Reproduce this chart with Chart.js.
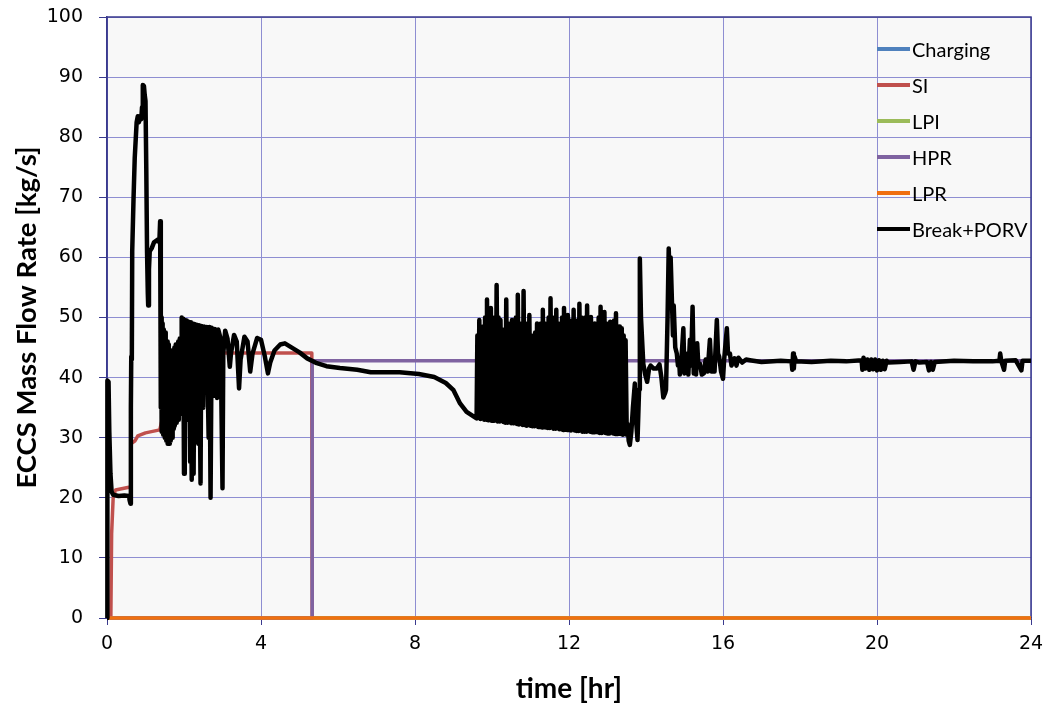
<!DOCTYPE html>
<html>
<head>
<meta charset="utf-8">
<script src="https://cdn.jsdelivr.net/npm/chart.js@4.4.1/dist/chart.umd.min.js"></script>
<style>
html,body{margin:0;padding:0;background:#ffffff;}
#wrap{position:relative;width:1049px;height:708px;overflow:hidden;}
#c{position:absolute;left:0;top:0;}
#legend{position:absolute;left:0;top:0;font-family:Lato,"Open Sans",sans-serif;font-size:20px;color:#000;}
.item{position:absolute;height:24px;line-height:24px;white-space:nowrap;}
.sw{position:absolute;left:0;top:10px;width:33px;height:4px;}
.lb{position:absolute;left:35px;top:0;}
</style>
</head>
<body>
<div id="wrap">
<canvas id="c" width="1049" height="708"></canvas>
<div id="legend"></div>
</div>
<script>
// ---- tick labels ----
const xTickValues = [0, 4, 8, 12, 16, 20, 24];
const yTickValues = [0, 10, 20, 30, 40, 50, 60, 70, 80, 90, 100];
const xTitle = 'time [hr]';
const yTitle = 'ECCS Mass Flow Rate [kg/s]';

// ---- series names ----
const seriesNames = ['Charging', 'SI', 'LPI', 'HPR', 'LPR', 'Break+PORV'];

// ---- Charging (zero throughout) ----
const chargingT = [0, 24];
const chargingV = [0, 0];

// ---- SI ----
const siT = [0, 0.1, 0.12, 0.16, 0.22, 0.6, 0.62, 0.73, 0.8, 1.0, 1.37, 1.45, 1.6, 1.9, 2.1, 2.3, 5.32, 5.33, 24];
const siV = [0, 0, 14, 20, 21.3, 21.8, 29, 29.5, 30.3, 30.8, 31.3, 33.5, 35, 39, 42, 44.1, 44.1, 0, 0];

// ---- LPI (zero throughout) ----
const lpiT = [0, 24];
const lpiV = [0, 0];

// ---- HPR ----
const hprT = [0, 5.33, 5.33, 24];
const hprV = [0, 0, 42.8, 42.8];

// ---- LPR (zero throughout) ----
const lprT = [0, 24];
const lprV = [0, 0];

// ---- Break+PORV ----
const breakT = [
  0, 0.01, 0.04, 0.06, 0.09, 0.12, 0.16, 0.3, 0.45, 0.57, 0.59, 0.61, 0.62, 0.63, 0.645, 0.655, 0.69, 0.72, 0.77, 0.8,
  0.83, 0.86, 0.89, 0.91, 0.93, 0.96, 0.98, 1.0, 1.02, 1.04, 1.06, 1.07, 1.09, 1.11, 1.16, 1.22, 1.33, 1.36, 1.38, 1.395, 1.40,
  1.41, 1.42, 1.43, 1.44, 1.45, 1.46, 1.47, 1.48, 1.49, 1.50, 1.51, 1.52, 1.53, 1.54, 1.55, 1.56, 1.57, 1.58, 1.59, 1.60,
  1.61, 1.62, 1.63, 1.64, 1.65, 1.66, 1.67, 1.68, 1.69, 1.70, 1.71, 1.72, 1.73, 1.74, 1.75, 1.76, 1.77, 1.78, 1.79, 1.80,
  1.81, 1.82, 1.83, 1.84, 1.85, 1.86, 1.87, 1.88, 1.89, 1.90, 1.91, 1.92, 1.93,
  1.94, 1.97, 1.98, 2.00, 2.02, 2.05, 2.07, 2.10, 2.12, 2.16, 2.18, 2.20, 2.22, 2.25, 2.27, 2.31, 2.33, 2.37, 2.39, 2.43,
  2.45, 2.50, 2.52, 2.57, 2.59, 2.64, 2.66, 2.69, 2.72, 2.78, 2.80, 2.86, 2.89, 2.95, 3.00, 3.02, 3.07, 3.13, 3.19, 3.22,
  3.30, 3.37, 3.43, 3.47, 3.57, 3.65, 3.72, 3.78, 3.90, 4.00, 4.10, 4.18, 4.24, 4.35, 4.50, 4.62, 4.80, 5.0, 5.2, 5.45,
  5.7, 6.05, 6.5, 6.85, 7.6, 8.1, 8.5, 8.8, 9.0, 9.17, 9.34, 9.6,
  9.62, 9.65, 9.67, 9.70, 9.72, 9.75, 9.77, 9.80, 9.82, 9.85, 9.87, 9.90, 9.92, 9.95, 9.97, 10.00, 10.02, 10.05, 10.07, 10.10,
  10.12, 10.15, 10.17, 10.20, 10.22, 10.25, 10.27, 10.30, 10.32, 10.35, 10.37, 10.40, 10.42, 10.45, 10.47, 10.50, 10.52, 10.55, 10.57, 10.60,
  10.62, 10.65, 10.67, 10.70, 10.72, 10.75, 10.77, 10.80, 10.82, 10.85, 10.87, 10.90, 10.92, 10.95, 10.97, 11.00, 11.02, 11.05, 11.07, 11.10,
  11.12, 11.15, 11.17, 11.20, 11.22, 11.25, 11.27, 11.30, 11.32, 11.35, 11.37, 11.40, 11.42, 11.45, 11.47, 11.50, 11.52, 11.55, 11.57, 11.60,
  11.62, 11.65, 11.67, 11.70, 11.72, 11.75, 11.77, 11.80, 11.82, 11.85, 11.87, 11.90, 11.92, 11.95, 11.97, 12.00, 12.02, 12.05, 12.07, 12.10,
  12.12, 12.15, 12.17, 12.20, 12.22, 12.25, 12.27, 12.30, 12.32, 12.35, 12.37, 12.40, 12.42, 12.45, 12.47, 12.50, 12.52, 12.55, 12.57, 12.60,
  12.62, 12.65, 12.67, 12.70, 12.72, 12.75, 12.77, 12.80, 12.82, 12.85, 12.87, 12.90, 12.92, 12.95, 12.97, 13.00, 13.02, 13.05, 13.07, 13.10,
  13.12, 13.15, 13.17, 13.20, 13.22, 13.25, 13.27, 13.30, 13.32, 13.35, 13.37, 13.40, 13.42, 13.45, 13.47, 13.50,
  13.52, 13.55, 13.58, 13.62, 13.66, 13.71, 13.74, 13.78, 13.82, 13.84, 13.87, 13.93, 13.98, 14.03, 14.08, 14.12, 14.2, 14.28, 14.35, 14.40,
  14.45, 14.50, 14.52, 14.56, 14.59, 14.62, 14.64, 14.67, 14.70, 14.72, 14.76, 14.80, 14.83, 14.86, 14.88, 14.92, 14.97, 15.0, 15.03, 15.08,
  15.10, 15.14, 15.17, 15.21, 15.24, 15.27, 15.30, 15.33, 15.36, 15.40, 15.45, 15.50, 15.55, 15.60, 15.66, 15.70, 15.74, 15.78, 15.84, 15.87,
  15.90, 15.95, 16.0, 16.03, 16.1, 16.13, 16.18, 16.22, 16.30, 16.35, 16.4, 16.5, 16.6, 16.7,
  17.0, 17.5, 17.78, 17.80, 17.82, 17.84, 17.86, 17.9, 18.3, 18.8, 19.2, 19.6, 19.62, 19.65, 19.7, 19.75, 19.8, 19.85, 19.9, 19.95,
  20.0, 20.05, 20.1, 20.15, 20.2, 20.25, 20.3, 20.6, 20.9, 20.95, 21.0, 21.1, 21.3, 21.35, 21.4, 21.45, 21.5, 22.0, 22.5, 23.0,
  23.18, 23.2, 23.23, 23.3, 23.33, 23.6, 23.75, 23.78, 24
];
const breakV = [
  0, 39.5, 39.3, 31, 24, 21, 20.5, 20.3, 20.4, 20.3, 19.5, 19, 35, 43.5, 43, 61, 70, 76.5, 82.5, 83.5,
  82.5, 83.5, 83, 85, 88.7, 88.5, 87, 86, 75, 61, 54, 52, 58, 61, 61.5, 62.5, 63, 62.5, 66, 58, 35,
  50, 31, 49, 33, 48, 30.5, 48, 34, 47, 30, 47.5, 32, 46.5, 29.5, 46, 33, 46, 29, 45, 31,
  45.5, 29, 44, 32, 44.5, 29.5, 43, 31, 43.5, 30, 44.5, 31.5, 44, 33, 45, 32, 45, 34, 45.5, 32.5,
  45, 33, 45.5, 34, 46, 33, 46, 34, 46.5, 35, 45.5, 34, 46,
  50, 36, 49.8, 24, 49.6, 35, 49.5, 33, 49.3, 26, 49.2, 23, 49.0, 24, 48.9, 38, 48.8, 29, 48.7, 22.4,
  48.6, 35, 48.5, 38, 48.4, 30, 48.4, 20, 48.3, 37, 48.1, 36.6, 48, 46.5, 21.6, 44, 47.8, 46.5, 41.8, 44,
  47.1, 46, 38.2, 43, 46.8, 46, 41, 44, 46.6, 46.3, 43.5, 40.7, 42.5, 44.5, 45.5, 45.7, 45, 44.2, 43.2, 42.4,
  41.9, 41.6, 41.3, 40.9, 40.9, 40.6, 40.1, 39.1, 37.9, 35.7, 34.3, 33.2,
  47, 33.5, 49.6, 33.1, 46, 38, 48.5, 33, 50, 33, 53, 32.9, 49, 36, 51.6, 32.8, 48, 32.8, 50, 34,
  55.4, 32.7, 50, 32.7, 49.6, 35, 48, 32.6, 47.5, 32.5, 53, 32.5, 49, 37, 48, 32.4, 49.6, 32.4, 47, 33,
  50, 32.3, 53.8, 32.2, 49, 35, 48, 32.1, 54.4, 32.1, 49, 32, 48.5, 36, 50.4, 32, 47, 31.9, 46.3, 31.9,
  47.5, 34, 49, 31.8, 48, 31.8, 49, 31.7, 51.3, 35, 49, 31.7, 48.5, 31.6, 50, 31.6, 53.2, 33, 50, 31.5,
  49, 31.5, 51.3, 34, 49, 31.4, 48, 31.4, 50, 31.3, 51.6, 36, 49, 31.3, 50.4, 31.3, 48.5, 31.2, 49.5, 34,
  51.3, 31.2, 49, 31.1, 49.5, 31.1, 52.3, 35, 50, 31, 49, 31, 50, 31, 52, 33, 49.5, 31, 50.1, 30.9,
  48, 30.9, 49, 36, 48.5, 30.9, 50, 30.8, 51.8, 30.8, 49.5, 34, 50.9, 30.8, 49, 30.7, 48.5, 30.7, 49.3, 33,
  48, 30.7, 49.5, 30.6, 50.7, 30.6, 48.5, 32, 48.5, 30.6, 48.2, 30.5, 47, 31, 46.2, 30.5,
  32.3, 29.5, 28.8, 31, 35, 39, 33, 29.6, 38, 59.8, 50, 42.3, 40.5, 39.3, 41.5, 42, 41.5, 41.5, 42.2, 40,
  36.7, 37.5, 38, 50, 61.5, 55, 60, 53.5, 47, 52, 45, 44, 42, 43, 40.5, 43, 48.2, 40.7, 43, 44,
  40.5, 46.3, 42, 51.8, 40.7, 44, 40.5, 45.7, 42, 42.3, 40.5, 40.7, 43, 41, 46.3, 41, 43, 41, 49.6, 44,
  43.5, 41, 39.8, 43, 48.2, 44, 44, 42, 43.2, 42, 43.3, 42.5, 43, 42.9,
  42.6, 42.8, 42.7, 41.3, 44, 41.5, 43.5, 42.7, 42.6, 42.8, 42.7, 42.9, 41.3, 43.3, 41.5, 43, 41.3, 43, 41.4, 43,
  41.2, 42.9, 41.3, 42.8, 41.4, 42.8, 42.5, 42.6, 42.7, 41.3, 42.7, 42.5, 42.6, 41.2, 42.6, 41.3, 42.6, 42.8, 42.7, 42.7,
  42.8, 44, 42.7, 41.3, 42.8, 42.9, 41.2, 42.8, 42.8
];

const colors = ['#4f81bd', '#c0504d', '#9bbb59', '#7f63a1', '#f07010', '#000000'];
const widths = [3.5, 3.5, 3.5, 3.5, 3.5, 4.5];

function pts(t, v) { return t.map((x, i) => ({ x: x, y: v[i] })); }

const seriesT = [chargingT, siT, lpiT, hprT, lprT, breakT];
const seriesV = [chargingV, siV, lpiV, hprV, lprV, breakV];

const datasets = seriesNames.map((name, i) => ({
  label: name,
  data: pts(seriesT[i], seriesV[i]),
  borderColor: colors[i],
  backgroundColor: colors[i],
  borderWidth: widths[i],
  pointRadius: 0,
  fill: false,
  tension: 0,
  clip: false,
  order: seriesNames.length - 1 - i
}));

const AXIS = '#3a3a8e';
const GRID = '#8e8ed2';

const bgPlugin = {
  id: 'bg',
  beforeDraw(chart) {
    const { ctx, chartArea: a } = chart;
    ctx.save();
    ctx.fillStyle = '#ffffff';
    ctx.fillRect(0, 0, chart.width, chart.height);
    ctx.fillStyle = '#f8f8f8';
    ctx.fillRect(a.left, a.top, a.right - a.left, a.bottom - a.top);
    ctx.restore();
  },
  beforeDatasetsDraw(chart) {
    const { ctx, chartArea: a } = chart;
    ctx.save();
    ctx.strokeStyle = AXIS;
    ctx.lineWidth = 1.5;
    ctx.strokeRect(a.left, a.top, a.right - a.left, a.bottom - a.top);
    ctx.restore();
  }
};

new Chart(document.getElementById('c'), {
  type: 'line',
  data: { datasets: datasets },
  plugins: [bgPlugin],
  options: {
    responsive: false,
    animation: false,
    devicePixelRatio: 1,
    layout: { padding: { left: 0, top: 17, right: 18, bottom: 0 } },
    plugins: { legend: { display: false }, tooltip: { enabled: false } },
    elements: { line: { borderJoinStyle: 'round', borderCapStyle: 'butt' }, point: { radius: 0 } },
    scales: {
      x: {
        type: 'linear', min: 0, max: 24,
        afterBuildTicks: (s) => { s.ticks = xTickValues.map(v => ({ value: v })); },
        afterFit: (s) => { s.height = 90; s.paddingLeft = 0; s.paddingRight = 0; },
        ticks: { font: { family: 'DejaVu Sans', size: 19 }, color: '#000', padding: 8, maxRotation: 0, autoSkip: false },
        grid: { color: GRID, lineWidth: 1, tickLength: 7, tickColor: AXIS, drawTicks: true },
        border: { color: AXIS, width: 1.5 },
        title: { display: true, text: xTitle, color: '#000', font: { family: 'Lato', size: 28, weight: 'bold' }, padding: { top: 0, bottom: 2 } }
      },
      y: {
        type: 'linear', min: 0, max: 100,
        afterBuildTicks: (s) => { s.ticks = yTickValues.map(v => ({ value: v })); },
        afterFit: (s) => { s.width = 107; s.paddingTop = 0; s.paddingBottom = 0; },
        ticks: { font: { family: 'DejaVu Sans', size: 19 }, color: '#000', padding: 16, autoSkip: false },
        grid: { color: GRID, lineWidth: 1, tickLength: 8, tickColor: AXIS, drawTicks: true },
        border: { color: AXIS, width: 1.5 },
        title: { display: true, text: yTitle, color: '#000', font: { family: 'Lato', size: 27.5, weight: 'bold' }, padding: { top: 11, bottom: 0 } }
      }
    }
  }
});

// ---- legend (inside plot, top right) ----
const legend = document.getElementById('legend');
seriesNames.forEach((name, i) => {
  const item = document.createElement('div');
  item.className = 'item';
  item.style.left = '877px';
  item.style.top = (49 + 36 * i - 12) + 'px';
  const sw = document.createElement('div');
  sw.className = 'sw';
  sw.style.background = colors[i];
  const lb = document.createElement('div');
  lb.className = 'lb';
  lb.textContent = name;
  item.appendChild(sw);
  item.appendChild(lb);
  legend.appendChild(item);
});
</script>
</body>
</html>
